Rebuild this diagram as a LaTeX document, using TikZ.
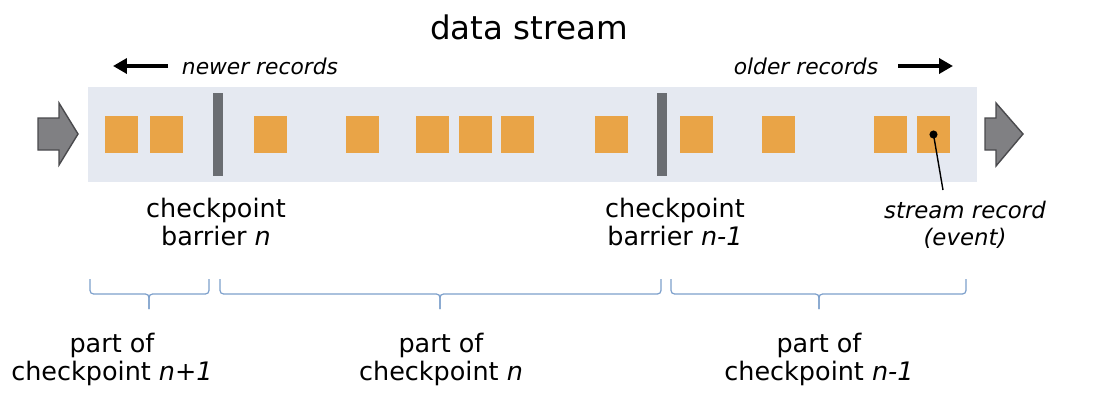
\documentclass[tikz,border=0pt]{standalone}
\usepackage{fontspec}
\setmainfont{DejaVu Sans}
\usetikzlibrary{positioning}
\usetikzlibrary{arrows.meta}
\definecolor{bandblue}{HTML}{E5E9F1}
\definecolor{recorange}{HTML}{E9A447}
\definecolor{barriergray}{HTML}{6A6D72}
\definecolor{arrowgray}{HTML}{808083}
\definecolor{arrowdark}{HTML}{4A4A4D}
\definecolor{bracecol}{HTML}{7C9FCB}

\begin{document}
\begin{tikzpicture}[x=0.02cm, y=-0.02cm,
        band/.style={fill=bandblue, minimum width=17.78cm, minimum height=1.9cm, inner sep=0pt},
        record/.style={fill=recorange, minimum width=0.66cm, minimum height=0.74cm, inner sep=0pt},
        barrier/.style={fill=barriergray, minimum width=0.2cm, minimum height=1.66cm, inner sep=0pt},
        lbl/.style={align=center, font=\fontsize{14.5}{16}\selectfont, inner sep=0pt},
        note/.style={align=center, font=\fontsize{13}{15.5}\selectfont\itshape, inner sep=0pt},
        brace/.style={draw=bracecol, line width=0.7pt, rounded corners=2pt},
        dirarrow/.style={-{Triangle[length=0.28cm, width=0.3cm]}, line width=2.6pt},
        blockarrow/.style={fill=arrowgray, draw=arrowdark, line width=0.8pt}]
    \useasboundingbox (0,0) rectangle (1100,406);

    \node[font=\fontsize{18.5}{22}\selectfont] (title) at (529,27) {data stream};

    \node[note, font=\fontsize{12.4}{15}\selectfont\itshape] (newer) at (260,66) {newer records};
    \node[note, font=\fontsize{12.4}{15}\selectfont\itshape] (older) at (806,66) {older records};
    \coordinate (nwtail) at (168,66);
    \coordinate (nwhead) at (113,66);
    \coordinate (oldtail) at (898,66);
    \coordinate (oldhead) at (953,66);
    \draw[dirarrow] (nwtail) -- (nwhead);
    \draw[dirarrow] (oldtail) -- (oldhead);

    \node[band] (band) at (532.5,134.5) {};
    \foreach \x [count=\i] in {121.5,166.5,270.5,362.5,432.5,475.5,517.5,611.5,696,778.5,890.5,933.5}
        \node[record] (rec\i) at (\x,134.5) {};
    \node[barrier] (bar1) at (218,134.5) {};
    \node[barrier] (bar2) at (661.5,134.5) {};

    % stream in / out
    \draw[blockarrow] (38,118) -- (59,118) -- (59,103) -- (78,134) -- (59,165) -- (59,150) -- (38,150) -- cycle;
    \draw[blockarrow] (985,118) -- (996,118) -- (996,103) -- (1023,134) -- (996,166) -- (996,150) -- (985,150) -- cycle;

    \node[lbl, anchor=north] (cpb1) at (216,198) {checkpoint\\barrier \textit{n}};
    \node[lbl, anchor=north] (cpb2) at (675,198) {checkpoint\\barrier \textit{n-1}};

    \node[note, anchor=north] (evt) at (965,201) {stream record\\(event)};
    \fill (rec12.center) circle[radius=2.3pt];
    \draw[line width=0.8pt] (rec12.center) -- ([shift={(-22,-11)}]evt.north);

    % checkpoint parts
    \foreach \a/\m/\b in {90/149/209, 220/440/661, 671/819/966} {
        \draw[brace] (\a,279) |- (\m,294) -- (\m,309);
        \draw[brace] (\b,279) |- (\m,294) -- (\m,309);
    }
    \node[lbl, anchor=north] (part1) at (112,333) {part of\\checkpoint \textit{n+1}};
    \node[lbl, anchor=north] (part2) at (441,333) {part of\\checkpoint \textit{n}};
    \node[lbl, anchor=north] (part3) at (819,333) {part of\\checkpoint \textit{n-1}};
\end{tikzpicture}
\end{document}
